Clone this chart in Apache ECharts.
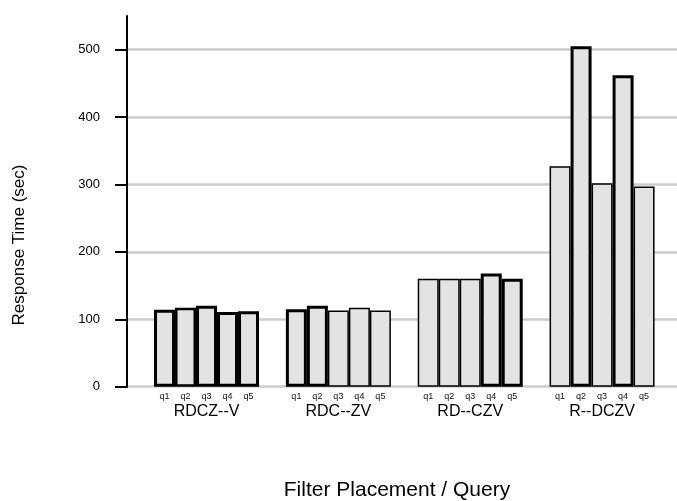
<!DOCTYPE html>
<html>
<head>
<meta charset="utf-8">
<script src="https://cdn.jsdelivr.net/npm/echarts@6/dist/echarts.min.js"></script>
<style>html,body{margin:0;padding:0;background:#fff;}#c{width:677px;height:501px;}</style>
</head>
<body>
<div id="c"></div>
<script>
// Data
const placements = ['RDCZ--V', 'RDC--ZV', 'RD--CZV', 'R--DCZV'];
const queries = ['q1', 'q2', 'q3', 'q4', 'q5'];
const q1 = [114, 115, 160, 327];
const q2 = [117, 120, 160, 505];
const q3 = [120, 113, 160, 302];
const q4 = [111, 117, 168, 462];
const q5 = [112, 113, 160, 297];
const yTicks = [0, 100, 200, 300, 400, 500];
const xTitle = 'Filter Placement / Query';
const yTitle = 'Response Time (sec)';

// Styles (outline thickness per query, per placement)
const outlineWidths = [
  [3, 3, 1.5, 1.5],
  [2.5, 3, 1.5, 3],
  [3, 1.5, 1.5, 1.5],
  [3, 1.5, 3, 3],
  [3, 1.5, 3, 1.5]
];
const seriesValues = [q1, q2, q3, q4, q5];
const FONT = 'Liberation Sans, Arial, Helvetica, sans-serif';

const series = queries.map((q, i) => ({
  type: 'bar',
  name: q,
  xAxisIndex: 1,
  yAxisIndex: 1,
  barWidth: 21,
  barGap: '0%',
  data: seriesValues[i].map((v, j) => ({
    value: v,
    itemStyle: { borderWidth: outlineWidths[i][j] }
  })),
  itemStyle: { color: '#e3e3e3', borderColor: '#000' },
  label: {
    show: true, position: 'bottom', distance: 5,
    formatter: q, fontSize: 9, color: '#111', fontFamily: FONT
  },
  emphasis: { disabled: true },
  silent: true
}));

const chart = echarts.init(document.getElementById('c'), null, { renderer: 'canvas' });
chart.setOption({
  animation: false,
  backgroundColor: '#fff',
  grid: [
    { left: 127, right: 0, top: 49.7, bottom: 114.3 },
    { left: 140.6, right: 9, top: 16, bottom: 114.3 }
  ],
  xAxis: [
    { gridIndex: 0, type: 'value', show: false, min: 0, max: 1 },
    {
      gridIndex: 1, type: 'category', data: placements,
      axisLine: { show: false }, axisTick: { show: false },
      axisLabel: { margin: 17, fontSize: 16, color: '#000', fontFamily: FONT }
    }
  ],
  yAxis: [
    {
      gridIndex: 0, type: 'value', min: yTicks[0], max: yTicks[yTicks.length - 1], interval: 100,
      axisLine: { show: true, lineStyle: { color: '#000', width: 2 } },
      axisTick: { show: true, length: 12, lineStyle: { color: '#000', width: 2 } },
      axisLabel: { margin: 27, fontSize: 13, color: '#000', fontFamily: FONT },
      splitLine: { show: true, lineStyle: { color: '#cccccc', width: 2.5 } }
    },
    {
      gridIndex: 1, type: 'value', min: 0, max: 550, offset: 13.6,
      axisLine: { show: true, lineStyle: { color: '#000', width: 2 } },
      axisTick: { show: false }, axisLabel: { show: false }, splitLine: { show: false }
    }
  ],
  graphic: [
    {
      type: 'text', x: 397, y: 480,
      style: { text: xTitle, font: '21px ' + FONT, fill: '#000', textAlign: 'center', textVerticalAlign: 'top' }
    },
    {
      type: 'text', x: 11, y: 245, rotation: Math.PI / 2,
      style: { text: yTitle, font: '17px ' + FONT, fill: '#000', textAlign: 'center', textVerticalAlign: 'top' }
    }
  ],
  series: series
});
</script>
</body>
</html>
